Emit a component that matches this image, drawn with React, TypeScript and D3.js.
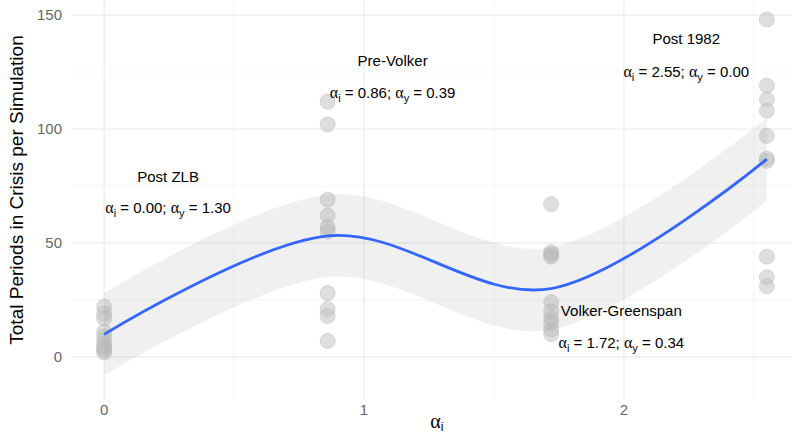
import React from "react";
import * as d3 from "d3";

// Policy-rule regimes (alpha_i) and crisis counts from ten simulations each
const regimeX = [0, 0.86, 1.72, 2.55];
const postZLB = [22, 19, 17, 11, 9, 7, 5, 4, 3, 2];
const preVolker = [112, 102, 69, 62, 57, 55, 28, 21, 18, 7];
const volkerGreenspan = [67, 46, 45, 44, 24, 20, 17, 15, 12, 10];
const post1982 = [148, 119, 113, 108, 97, 87, 86, 44, 35, 31];
const groups = [postZLB, preVolker, volkerGreenspan, post1982];

const yTicks = [0, 50, 100, 150];
const yMinor = [25, 75, 125];
const xTicks = [0, 1, 2];
const xMinor = [0.5, 1.5, 2.5];

const labelNames = ["Post ZLB", "Pre-Volker", "Volker-Greenspan", "Post 1982"];
const labelAlphaI = ["0.00", "0.86", "1.72", "2.55"];
const labelAlphaY = ["1.30", "0.39", "0.34", "0.00"];
const labelX = [0.246, 1.11, 1.99, 2.24];
const labelY = [79, 130, 20, 139.5];
const labelY2 = [65.5, 116, 6, 125];

const W = 792;
const H = 437;

// Local fit at each regime with a pooled-variance 95% band
function smoothFit() {
  const n = d3.sum(groups, (g) => g.length);
  const means = groups.map((g) => d3.mean(g) as number);
  const rss = d3.sum(groups, (g, i) => d3.sum(g, (v) => (v - means[i]) ** 2));
  const s = Math.sqrt(rss / (n - groups.length));
  const tcrit = 2.028;
  return regimeX.map((x, i) => {
    const se = s / Math.sqrt(groups[i].length);
    return { x, y: means[i], lo: means[i] - tcrit * se, hi: means[i] + tcrit * se };
  });
}

function MathLabel({ ai, ay, x, y }: { ai: string; ay: string; x: number; y: number }) {
  const sym = { fontFamily: "'Liberation Serif', 'DejaVu Serif', serif", fontSize: 16 };
  const sub = { fontSize: 11 };
  return (
    <text x={x} y={y} textAnchor="middle" fontSize={15} fill="#000"
      fontFamily="'Liberation Sans', Arial, sans-serif">
      <tspan style={sym}>α</tspan>
      <tspan style={sub} dy={4}>i</tspan>
      <tspan dy={-4}>{` = ${ai}; `}</tspan>
      <tspan style={sym}>α</tspan>
      <tspan style={sub} dy={4}>y</tspan>
      <tspan dy={-4}>{` = ${ay}`}</tspan>
    </text>
  );
}

export default function App() {
  const panel = { left: 71, right: 800, top: 0, bottom: 400 };
  const x = d3.scaleLinear().domain([-0.1275, 2.6775]).range([panel.left, panel.right]);
  const y = d3.scaleLinear().domain([-18.9, 156.6]).range([panel.bottom, panel.top]);

  const pts: { x: number; y: number }[] = [];
  groups.forEach((g, i) => g.forEach((v) => pts.push({ x: regimeX[i], y: v })));

  const fit = smoothFit();
  const curve = d3.curveCardinal.tension(0);

  const band = d3
    .area<{ x: number; lo: number; hi: number }>()
    .x((d) => x(d.x))
    .y0((d) => y(d.lo))
    .y1((d) => y(d.hi))
    .curve(curve);
  const line = d3
    .line<{ x: number; y: number }>()
    .x((d) => x(d.x))
    .y((d) => y(d.y))
    .curve(curve);

  const font = "'Liberation Sans', Arial, sans-serif";

  return (
    <svg width={W} height={H} style={{ position: "absolute", left: 0, top: 0 }}>
      <rect width={W} height={H} fill="#fff" />
      <defs>
        <clipPath id="panel">
          <rect x={panel.left} y={panel.top} width={panel.right - panel.left} height={panel.bottom - panel.top} />
        </clipPath>
      </defs>
      <g clipPath="url(#panel)">
        {yMinor.map((t) => (
          <line key={"ym" + t} x1={panel.left} x2={panel.right} y1={y(t)} y2={y(t)} stroke="#f2f2f2" strokeWidth={0.8} />
        ))}
        {xMinor.map((t) => (
          <line key={"xm" + t} x1={x(t)} x2={x(t)} y1={panel.top} y2={panel.bottom} stroke="#f2f2f2" strokeWidth={0.8} />
        ))}
        {yTicks.map((t) => (
          <line key={"y" + t} x1={panel.left} x2={panel.right} y1={y(t)} y2={y(t)} stroke="#ebebeb" strokeWidth={1.2} />
        ))}
        {xTicks.map((t) => (
          <line key={"x" + t} x1={x(t)} x2={x(t)} y1={panel.top} y2={panel.bottom} stroke="#ebebeb" strokeWidth={1.2} />
        ))}
        {pts.map((p, i) => (
          <circle key={i} cx={x(p.x)} cy={y(p.y)} r={7.5} fill="#bebebe" fillOpacity={0.5}
            stroke="#bebebe" strokeOpacity={0.5} strokeWidth={1} />
        ))}
        <path d={band(fit) || ""} fill="#999" fillOpacity={0.15} />
        <path d={line(fit) || ""} fill="none" stroke="#3366FF" strokeWidth={2.8} />
      </g>

      {labelNames.map((nm, i) => (
        <g key={nm}>
          <text x={x(labelX[i])} y={y(labelY[i]) + 5} textAnchor="middle" fontSize={15} fontFamily={font} fill="#000">
            {nm}
          </text>
          <MathLabel ai={labelAlphaI[i]} ay={labelAlphaY[i]} x={x(labelX[i])} y={y(labelY2[i]) + 5} />
        </g>
      ))}

      {yTicks.map((t) => (
        <text key={"yl" + t} x={62} y={y(t) + 5} textAnchor="end" fontSize={15} fontFamily={font} fill="#666">
          {t}
        </text>
      ))}
      {xTicks.map((t) => (
        <text key={"xl" + t} x={x(t)} y={415} textAnchor="middle" fontSize={15} fontFamily={font} fill="#666">
          {t}
        </text>
      ))}

      <text transform={`translate(23,${(panel.top + panel.bottom) / 2 - 10}) rotate(-90)`} textAnchor="middle"
        fontSize={19} fontFamily={font} fill="#000">
        Total Periods in Crisis per Simulation
      </text>
      <text x={x(1.28)} y={428} textAnchor="middle" fill="#000">
        <tspan fontSize={20} fontFamily="'Liberation Serif', 'DejaVu Serif', serif">α</tspan>
        <tspan fontSize={12} dy={3} fontFamily={font}>i</tspan>
      </text>
    </svg>
  );
}
